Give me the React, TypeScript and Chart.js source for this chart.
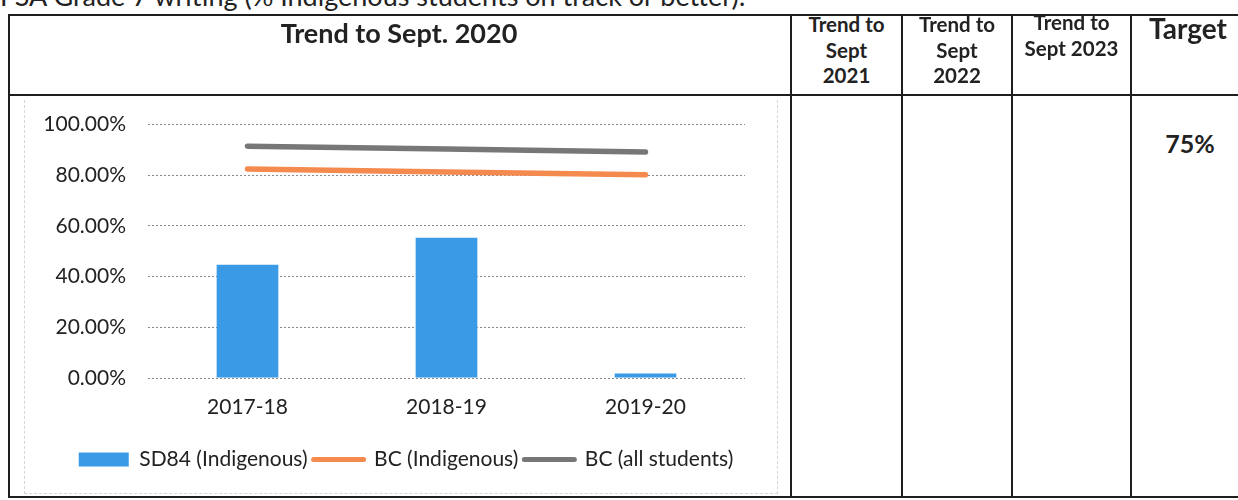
import React, { useEffect, useRef } from 'react';
import { Chart, registerables } from 'chart.js';

Chart.register(...registerables);

const categories = ['2017-18', '2018-19', '2019-20'];
const sd84Indigenous = [44.7, 55.3, 1.8];
const bcIndigenous = [82.5, 81.3, 80.2];
const bcAllStudents = [91.5, 90.4, 89.2];
const yTickValues = [0, 20, 40, 60, 80, 100];
const seriesLabels = ['SD84 (Indigenous)', 'BC (Indigenous)', 'BC (all students)'];
const seriesColors = ['#3a9ae6', '#f48a4e', '#777777'];

const FONT = 'Lato, "Open Sans", sans-serif';
const INK = '#222';

const shiftLegend = {
  id: 'shiftLegend',
  beforeDraw(chart: any) {
    const lg = chart.legend;
    if (lg) {
      lg.left = 58;
      lg.right = 736;
    }
  },
};

function ChartCanvas() {
  const ref = useRef<HTMLCanvasElement | null>(null);
  useEffect(() => {
    if (!ref.current) return;
    const chart = new Chart(ref.current, {
      type: 'bar',
      data: {
        labels: categories,
        datasets: [
          {
            type: 'bar',
            label: seriesLabels[0],
            data: sd84Indigenous,
            backgroundColor: seriesColors[0],
            borderWidth: 0,
            barPercentage: 0.31,
            categoryPercentage: 1,
            order: 3,
          },
          {
            type: 'line',
            label: seriesLabels[1],
            data: bcIndigenous,
            borderColor: seriesColors[1],
            backgroundColor: seriesColors[1],
            borderWidth: 5.5,
            borderCapStyle: 'round',
            pointRadius: 0,
            fill: false,
            tension: 0,
            order: 1,
          },
          {
            type: 'line',
            label: seriesLabels[2],
            data: bcAllStudents,
            borderColor: seriesColors[2],
            backgroundColor: seriesColors[2],
            borderWidth: 5.5,
            borderCapStyle: 'round',
            pointRadius: 0,
            fill: false,
            tension: 0,
            order: 2,
          },
        ],
      } as any,
      options: {
        animation: false,
        responsive: false,
        maintainAspectRatio: false,
        layout: { padding: { left: 0, right: 44, top: 16, bottom: 18 } },
        plugins: {
          tooltip: { enabled: false },
          legend: {
            position: 'bottom',
            labels: {
              usePointStyle: true,
              pointStyleWidth: 50,
              boxHeight: 14,
              padding: 6,
              color: INK,
              font: { family: FONT, size: 21 },
              generateLabels: (c: any) =>
                c.data.datasets.map((ds: any, i: number) => ({
                  text: ds.label,
                  fillStyle: seriesColors[i],
                  strokeStyle: seriesColors[i],
                  lineWidth: i === 0 ? 0 : 5,
                  lineCap: 'round',
                  pointStyle: i === 0 ? 'rect' : 'line',
                  hidden: false,
                  datasetIndex: i,
                  fontColor: INK,
                })),
            },
          },
        },
        scales: {
          x: {
            grid: { display: false, drawTicks: false },
            border: { display: false },
            ticks: { color: INK, padding: 17, font: { family: FONT, size: 21 } },
            afterFit: (s: any) => {
              s.height = 65;
            },
          },
          y: {
            min: 0,
            max: 100,
            afterBuildTicks: (s: any) => {
              s.ticks = yTickValues.map((v) => ({ value: v }));
            },
            afterFit: (s: any) => {
              s.width = 139;
            },
            grid: {
              drawTicks: false,
              color: 'rgba(60,60,60,0.6)',
              lineWidth: 1,
            },
            border: { display: false, dash: [2, 2] },
            ticks: {
              color: INK,
              padding: 22,
              font: { family: FONT, size: 21 },
              callback: (v: any) => Number(v).toFixed(2) + '%',
            },
          },
        },
      } as any,
      plugins: [shiftLegend],
    });
    return () => chart.destroy();
  }, []);
  return (
    <canvas
      ref={ref}
      width={780}
      height={408}
      style={{ position: 'absolute', left: 9, top: 90, width: 780, height: 408 }}
    />
  );
}

const lineStyle = (l: number, t: number, w: number, h: number): React.CSSProperties => ({
  position: 'absolute',
  left: l,
  top: t,
  width: w,
  height: h,
  background: '#1e1e1e',
});

function HeaderCell(props: { left: number; width: number; top: number; size: number; lh: number; lines: string[] }) {
  return (
    <div
      style={{
        position: 'absolute',
        left: props.left,
        width: props.width,
        top: props.top,
        textAlign: 'center',
        fontFamily: FONT,
        fontWeight: 700,
        fontSize: props.size,
        lineHeight: props.lh + 'px',
        color: INK,
        whiteSpace: 'nowrap',
      }}
    >
      {props.lines.map((t, i) => (
        <div key={i}>{t}</div>
      ))}
    </div>
  );
}

export default function App() {
  const colX = [8, 790, 901, 1011, 1130];
  return (
    <div
      style={{
        position: 'fixed',
        left: 0,
        top: 0,
        width: 1238,
        height: 500,
        overflow: 'hidden',
        background: '#fff',
      }}
    >
      <div
        style={{
          position: 'absolute',
          left: 0,
          top: -18,
          fontFamily: FONT,
          fontSize: 27,
          lineHeight: '27px',
          color: INK,
          whiteSpace: 'nowrap',
        }}
      >
        FSA Grade 7 writing (% Indigenous students on track or better):
      </div>

      {/* faint chart-area frame */}
      <div
        style={{
          position: 'absolute',
          left: 24,
          top: 100,
          width: 752,
          height: 393,
          borderLeft: '1px dashed #d6d6d6',
          borderRight: '1px dashed #d6d6d6',
          borderBottom: '1px dashed #d6d6d6',
        }}
      />

      <ChartCanvas />

      {/* table borders */}
      <div style={lineStyle(8, 14, 1240, 2)} />
      <div style={lineStyle(8, 94, 1240, 2)} />
      <div style={lineStyle(8, 496, 1240, 2)} />
      {colX.map((x, i) => (
        <div key={i} style={lineStyle(x, 14, 2, 484)} />
      ))}

      <HeaderCell left={8} width={782} top={18} size={27} lh={30} lines={['Trend to Sept. 2020']} />
      <HeaderCell left={792} width={109} top={12} size={20.5} lh={25.5} lines={['Trend to', 'Sept', '2021']} />
      <HeaderCell left={903} width={108} top={12} size={20.5} lh={25.5} lines={['Trend to', 'Sept', '2022']} />
      <HeaderCell left={1013} width={117} top={10} size={20.5} lh={25.5} lines={['Trend to', 'Sept 2023']} />
      <HeaderCell left={1132} width={112} top={13} size={28} lh={30} lines={['Target']} />
      <HeaderCell left={1132} width={116} top={128} size={25} lh={30} lines={['75%']} />
    </div>
  );
}
